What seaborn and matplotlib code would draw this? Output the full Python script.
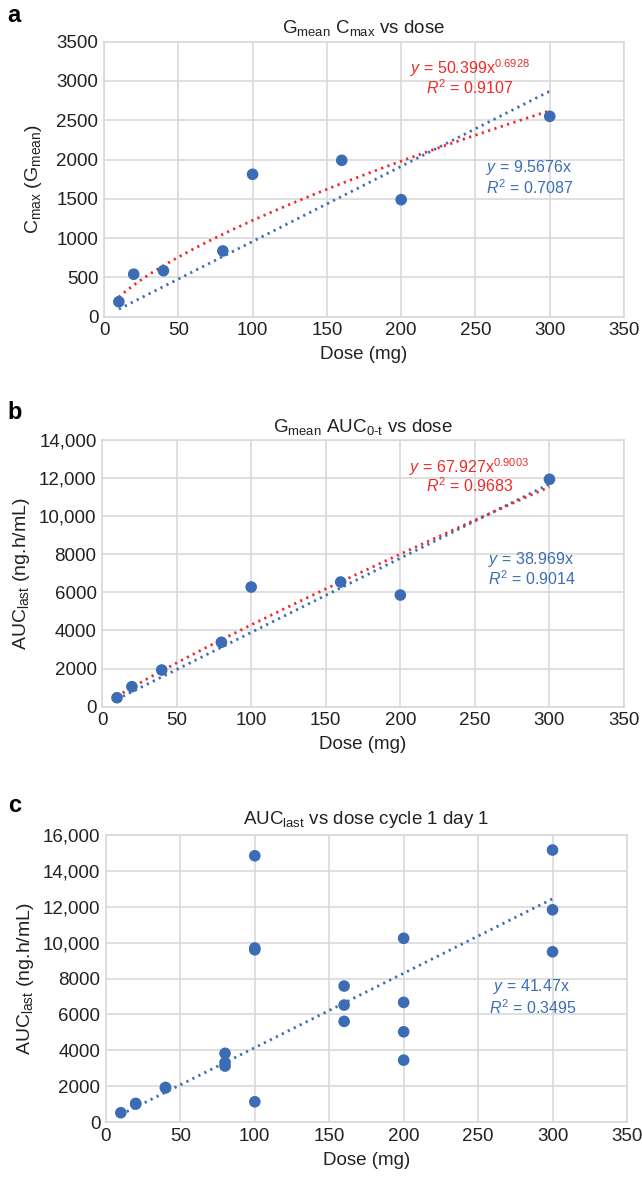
import numpy as np
import pandas as pd
import matplotlib
matplotlib.use("Agg")
import matplotlib.pyplot as plt
import seaborn as sns

# ---------------- data ----------------
dose_a = [10, 20, 40, 80, 100, 160, 200, 300]
cmax_a = [190, 540, 585, 836, 1812, 1990, 1489, 2550]
pow_a = (50.399, 0.6928)
lin_a = 9.5676

dose_b = [10, 20, 40, 80, 100, 160, 200, 300]
auc_b = [470, 1050, 1925, 3380, 6280, 6545, 5860, 11935]
pow_b = (67.927, 0.9003)
lin_b = 38.969

dose_c = [10, 20, 20, 40, 40, 80, 80, 80, 100, 100, 100, 100,
          160, 160, 160, 200, 200, 200, 200, 300, 300, 300]
auc_c = [520, 1040, 1000, 1930, 1900, 3830, 3310, 3120, 14840, 9700, 9600, 1130,
         7580, 6520, 5610, 10240, 6670, 5030, 3450, 15160, 11830, 9490]
lin_c = 41.47

ticks_a = [0, 500, 1000, 1500, 2000, 2500, 3000, 3500]
ticklab_a = ["0", "500", "1000", "1500", "2000", "2500", "3000", "3500"]
ticks_b = [0, 2000, 4000, 6000, 8000, 10000, 12000, 14000]
ticklab_b = ["0", "2000", "4000", "6000", "8000", "10,000", "12,000", "14,000"]
ticks_c = [0, 2000, 4000, 6000, 8000, 10000, 12000, 14000, 16000]
ticklab_c = ["0", "2000", "4000", "6000", "8000", "10,000", "12,000", "14,000", "16,000"]
xticks = [0, 50, 100, 150, 200, 250, 300, 350]

# ---------------- style ----------------
sns.set_theme(style="whitegrid")
plt.rcParams["font.family"] = ["Liberation Sans", "DejaVu Sans"]
plt.rcParams["mathtext.fontset"] = "custom"
plt.rcParams["mathtext.rm"] = "Liberation Sans"
plt.rcParams["mathtext.it"] = "Liberation Sans:italic"
plt.rcParams["mathtext.bf"] = "Liberation Sans:bold"

BLUE = "#3c6db4"
RED = "#ee2a2a"
GRID = "#d9d9d9"
TXT = "#222222"
FS_TICK = 13.5
FS_LAB = 13.5
FS_ANN = 11.5

fig = plt.figure(figsize=(6.42, 11.78), dpi=100)
ax_a = fig.add_axes([0.162, 0.7312, 0.810, 0.2334])
ax_b = fig.add_axes([0.159, 0.4001, 0.813, 0.2264])
ax_c = fig.add_axes([0.165, 0.0475, 0.8116, 0.2437])


def style_axis(ax, yticks, ylabs, ymax):
    ax.set_xlim(0, 350)
    ax.set_ylim(0, ymax)
    ax.set_xticks(xticks)
    ax.set_xticklabels([str(t) for t in xticks], fontsize=FS_TICK, color=TXT)
    ax.set_yticks(yticks)
    ax.set_yticklabels(ylabs, fontsize=FS_TICK, color=TXT)
    ax.grid(True, color=GRID, linewidth=1.2)
    for s in ax.spines.values():
        s.set_color(GRID)
        s.set_linewidth(1.2)
    ax.tick_params(axis="both", length=0, pad=4)
    ax.set_facecolor("white")


def trend(ax, coef, power, color):
    xs = np.linspace(10, 300, 300)
    ys = coef * xs ** power
    sns.lineplot(x=xs, y=ys, ax=ax, color=color, linewidth=2.0,
                 linestyle=(0, (0.8, 1.6)), zorder=2)


# ---- panel a ----
style_axis(ax_a, ticks_a, ticklab_a, 3500)
trend(ax_a, lin_a, 1.0, BLUE)
trend(ax_a, pow_a[0], pow_a[1], RED)
sns.scatterplot(x=dose_a, y=cmax_a, ax=ax_a, color=BLUE, s=70, edgecolor="none", zorder=3)
ax_a.set_title(r"G$_{\mathrm{mean}}$ C$_{\mathrm{max}}$ vs dose", fontsize=FS_LAB, color=TXT, pad=6)
ax_a.set_xlabel("Dose (mg)", fontsize=FS_LAB, color=TXT, labelpad=5)
ax_a.set_ylabel(r"C$_{\mathrm{max}}$ (G$_{\mathrm{mean}}$)", fontsize=FS_LAB + 0.5, color=TXT, labelpad=9)
ax_a.text(206, 3165, r"$y$ = 50.399x$^{0.6928}$", color=RED, fontsize=FS_ANN, va="center")
ax_a.text(217, 2920, r"$R^{2}$ = 0.9107", color=RED, fontsize=FS_ANN, va="center")
ax_a.text(257, 1897, r"$y$ = 9.5676x", color=BLUE, fontsize=FS_ANN, va="center")
ax_a.text(257, 1642, r"$R^{2}$ = 0.7087", color=BLUE, fontsize=FS_ANN, va="center")

# ---- panel b ----
style_axis(ax_b, ticks_b, ticklab_b, 14000)
trend(ax_b, lin_b, 1.0, BLUE)
trend(ax_b, pow_b[0], pow_b[1], RED)
sns.scatterplot(x=dose_b, y=auc_b, ax=ax_b, color=BLUE, s=70, edgecolor="none", zorder=3)
ax_b.set_title(r"G$_{\mathrm{mean}}$ AUC$_{\mathrm{0\text{-}t}}$ vs dose", fontsize=FS_LAB, color=TXT, pad=6)
ax_b.set_xlabel("Dose (mg)", fontsize=FS_LAB, color=TXT, labelpad=5)
ax_b.set_ylabel(r"AUC$_{\mathrm{last}}$ (ng.h/mL)", fontsize=FS_LAB + 0.5, color=TXT, labelpad=5)
ax_b.text(206, 12570, r"$y$ = 67.927x$^{0.9003}$", color=RED, fontsize=FS_ANN, va="center")
ax_b.text(217, 11600, r"$R^{2}$ = 0.9683", color=RED, fontsize=FS_ANN, va="center")
ax_b.text(259, 7700, r"$y$ = 38.969x", color=BLUE, fontsize=FS_ANN, va="center")
ax_b.text(259, 6700, r"$R^{2}$ = 0.9014", color=BLUE, fontsize=FS_ANN, va="center")

# ---- panel c ----
style_axis(ax_c, ticks_c, ticklab_c, 16000)
trend(ax_c, lin_c, 1.0, BLUE)
sns.scatterplot(x=dose_c, y=auc_c, ax=ax_c, color=BLUE, s=70, edgecolor="none", zorder=3)
ax_c.set_title(r"AUC$_{\mathrm{last}}$ vs dose cycle 1 day 1", fontsize=FS_LAB, color=TXT, pad=8)
ax_c.set_xlabel("Dose (mg)", fontsize=FS_LAB, color=TXT, labelpad=5)
ax_c.set_ylabel(r"AUC$_{\mathrm{last}}$ (ng.h/mL)", fontsize=FS_LAB + 0.5, color=TXT, labelpad=5)
ax_c.text(260, 7540, r"$y$ = 41.47x", color=BLUE, fontsize=FS_ANN, va="center")
ax_c.text(257, 6370, r"$R^{2}$ = 0.3495", color=BLUE, fontsize=FS_ANN, va="center")

# panel letters
fig.text(0.012, 1 - 16 / 1178, "a", fontsize=17, fontweight="bold", va="center", color="black")
fig.text(0.012, 1 - 413 / 1178, "b", fontsize=17, fontweight="bold", va="center", color="black")
fig.text(0.012, 1 - 805 / 1178, "c", fontsize=17, fontweight="bold", va="center", color="black")

fig.savefig("out.png", dpi=100, facecolor="white")
